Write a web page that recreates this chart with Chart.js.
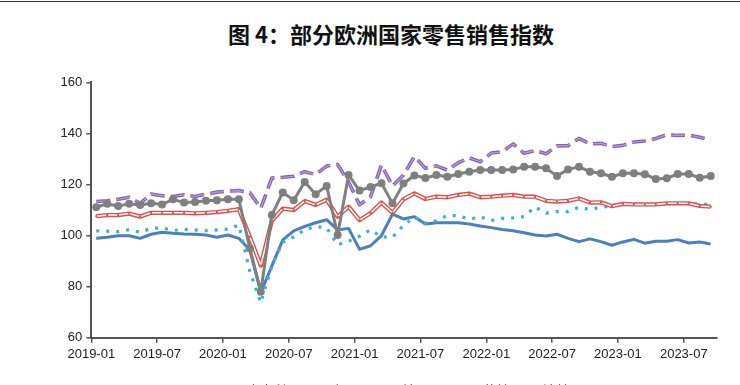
<!DOCTYPE html>
<html><head><meta charset="utf-8">
<script src="https://cdn.jsdelivr.net/npm/chart.js"></script>
<style>
html,body{margin:0;padding:0;background:#fff;overflow:hidden;}
#wrap{position:relative;width:740px;height:385px;overflow:hidden;background:#fff;}
#topline{position:absolute;left:0;top:1px;width:740px;height:1px;background:#333;}
#title{position:absolute;top:18px;left:0;width:782px;text-align:center;font-family:"Noto Sans CJK SC",sans-serif;font-weight:700;font-size:22px;line-height:30px;color:#111;white-space:nowrap;}
canvas{position:absolute;left:0;top:0;}
</style></head><body>
<div id="wrap"><div id="topline"></div><div id="title">图 4：部分欧洲国家零售销售指数</div><canvas id="c" width="740" height="385"></canvas></div>
<script>
const months = ['2019-01','2019-02','2019-03','2019-04','2019-05','2019-06','2019-07','2019-08','2019-09','2019-10','2019-11','2019-12',
'2020-01','2020-02','2020-03','2020-04','2020-05','2020-06','2020-07','2020-08','2020-09','2020-10','2020-11','2020-12',
'2021-01','2021-02','2021-03','2021-04','2021-05','2021-06','2021-07','2021-08','2021-09','2021-10','2021-11','2021-12',
'2022-01','2022-02','2022-03','2022-04','2022-05','2022-06','2022-07','2022-08','2022-09','2022-10','2022-11','2022-12',
'2023-01','2023-02','2023-03','2023-04','2023-05','2023-06','2023-07','2023-08','2023-09'];
const tickLabels = ['2019-01','2019-07','2020-01','2020-07','2021-01','2021-07','2022-01','2022-07','2023-01','2023-07'];
const yTicks = [60, 80, 100, 120, 140, 160];
const seriesNames = ['意大利','西班牙','法国','荷兰','波兰'];

const blueSeries = [98.9,99.3,99.9,99.9,98.9,100.5,101.3,100.9,100.6,100.5,100.2,99.3,100.2,98.9,94.3,77.7,88.0,98.3,101.8,103.6,105.0,106.2,102.2,102.8,94.6,96.0,100.0,108.4,106.5,107.4,104.5,105.0,105.0,105.0,104.5,103.7,103.1,102.4,101.9,101.1,100.2,99.8,100.5,98.9,97.6,98.7,97.6,96.2,97.5,98.5,97.0,97.8,97.8,98.4,97.1,97.5,96.7];
const cyanSeries = [101.8,101.7,101.5,102.3,101.3,102.8,103.0,102.0,102.4,102.2,101.9,102.2,102.5,104.1,86.0,73.7,88.0,97.5,99.4,102.3,103.5,103.0,96.4,97.8,99.7,102.3,99.5,99.3,104.0,107.2,104.8,105.8,107.8,107.8,106.4,107.3,105.9,106.7,106.9,107.4,111.2,108.8,109.4,109.4,111.1,110.2,111.1,111.6,112.3,112.3,112.1,112.1,112.6,112.6,112.6,112.3,112.2];
const redSeries = [107.6,108.0,108.0,108.6,107.4,108.9,108.9,108.9,108.9,108.7,108.9,109.2,109.7,110.3,99.5,88.3,105.8,110.5,110.0,113.5,112.0,114.0,107.4,111.3,106.0,108.8,112.9,108.8,114.2,116.5,114.3,115.2,115.0,115.9,116.4,115.0,115.2,115.6,115.9,115.2,115.2,113.6,113.3,113.6,114.5,112.9,113.0,111.5,112.4,112.2,112.2,112.2,112.6,112.6,112.6,111.6,111.3];
const graySeries = [111.1,112.4,111.6,112.4,112.0,112.6,112.2,114.2,112.9,113.1,113.6,113.8,114.2,114.2,95.0,78.0,108.0,116.9,113.8,121.0,116.2,119.4,100.2,123.7,117.6,119.0,120.5,112.6,120.4,123.5,122.5,123.7,123.0,124.1,125.0,125.7,125.7,125.7,125.9,126.9,126.9,126.3,123.3,125.9,126.9,125.0,124.4,123.0,124.4,124.4,124.0,122.1,122.4,124.1,124.1,122.6,123.3];
const purpleSeries = [113.3,113.6,114.2,115.0,112.6,116.3,115.6,115.3,116.0,115.3,116.2,117.0,117.4,117.6,116.8,110.7,122.5,122.8,123.2,125.0,123.9,127.2,127.8,121.0,112.0,115.2,127.6,119.4,123.7,130.9,126.3,127.3,125.6,128.5,130.4,128.9,132.3,132.8,135.9,132.2,133.3,132.0,135.1,135.2,138.0,135.9,136.1,134.8,135.3,136.6,137.0,138.0,139.5,139.2,139.3,138.5,137.4];

function monthIndex(s){ const p = s.split('-'); return (parseInt(p[0],10)-2019)*12 + parseInt(p[1],10)-1; }
function pts(vals){ return vals.map((v,i)=>({x: monthIndex(months[i]) + 0.45, y: v})); }
const axisMax = monthIndex(months[months.length-1]) + 1;

const C = {blue:'#4a7fc2', cyan:'#3bb0d2', red:'#d9504c', gray:'#7f7f7f', purple:'#8662b6', lav:'#b7a2d6'};

const datasets = [
  {label: seriesNames[0], data: pts(blueSeries), borderColor: C.blue, borderWidth: 3, pointRadius: 0, order: 6},
  {label: seriesNames[1], data: pts(cyanSeries), borderColor: C.cyan, borderWidth: 3.2, borderDash: [3, 7], pointRadius: 0, order: 5},
  {label: seriesNames[2], data: pts(redSeries), borderColor: C.red, borderWidth: 4.3, pointRadius: 0, order: 4},
  {label: '', data: pts(redSeries), borderColor: '#ffffff', borderWidth: 1.5, pointRadius: 1.4, pointStyle: 'rect', pointBackgroundColor: C.red, pointBorderWidth: 0, order: 3},
  {label: seriesNames[4], data: pts(purpleSeries), borderColor: C.purple, borderWidth: 3.6, borderDash: [14, 6], pointRadius: 0, order: 2},
  {label: '', data: pts(purpleSeries), borderColor: C.lav, borderWidth: 1.1, borderDash: [14, 6], pointRadius: 0, order: 1.5},
  {label: seriesNames[3], data: pts(graySeries), borderColor: C.gray, borderWidth: 3, pointRadius: 4, pointBackgroundColor: C.gray, pointBorderColor: C.gray, pointBorderWidth: 0, order: 0}
];
datasets.forEach(d => { d.tension = 0; d.fill = false; d.borderJoinStyle = 'round'; });

const legendItems = [
  {name: seriesNames[0], color: C.blue, dash: []},
  {name: seriesNames[1], color: C.cyan, dash: [3, 5]},
  {name: seriesNames[2], color: C.red, dash: []},
  {name: seriesNames[3], color: C.gray, dash: []},
  {name: seriesNames[4], color: C.purple, dash: [8, 4]}
];
const legendPlugin = {
  id: 'bottomLegend',
  afterDraw(chart){
    const ctx = chart.ctx;
    const xs = [247, 317, 403, 483, 543];
    ctx.save();
    ctx.font = '13px "Noto Sans CJK SC", sans-serif';
    ctx.textBaseline = 'top';
    ctx.fillStyle = '#444';
    legendItems.forEach((it, k) => {
      const x = xs[k];
      ctx.strokeStyle = it.color; ctx.lineWidth = 3; ctx.setLineDash(it.dash);
      ctx.beginPath(); ctx.moveTo(x - 32, 392); ctx.lineTo(x - 6, 392); ctx.stroke();
      ctx.setLineDash([]);
      ctx.fillText(it.name, x, 384);
    });
    ctx.restore();
  }
};

const tickFont = {family: '"Liberation Sans", Arial, sans-serif', size: 13};
new Chart(document.getElementById('c'), {
  type: 'line',
  data: {datasets},
  plugins: [legendPlugin],
  options: {
    responsive: false, animation: false, devicePixelRatio: 1,
    layout: {padding: {left: 0, right: 23.3, top: 82.3, bottom: 0}},
    plugins: {legend: {display: false}, tooltip: {enabled: false}},
    scales: {
      x: {
        type: 'linear', min: 0, max: axisMax,
        afterBuildTicks: s => { s.ticks = tickLabels.map(l => ({value: monthIndex(l)})); },
        afterFit: s => { s.height = 47.3; },
        ticks: {autoSkip: false, maxRotation: 0, padding: 4, color: '#222', font: tickFont,
          callback: v => { const k = tickLabels.findIndex(l => monthIndex(l) === v); return k >= 0 ? tickLabels[k] : ''; }},
        grid: {drawOnChartArea: false, drawTicks: true, tickLength: 5, color: '#555', lineWidth: 1.5},
        border: {display: true, color: '#555', width: 2}
      },
      y: {
        min: 60, max: 160,
        afterBuildTicks: s => { s.ticks = yTicks.map(v => ({value: v})); },
        afterFit: s => { s.width = 91.3; },
        ticks: {padding: 4, color: '#222', font: tickFont},
        grid: {drawOnChartArea: false, drawTicks: true, tickLength: 5, color: '#555', lineWidth: 1.5},
        border: {display: true, color: '#555', width: 2}
      }
    }
  }
});
</script>
</body></html>
